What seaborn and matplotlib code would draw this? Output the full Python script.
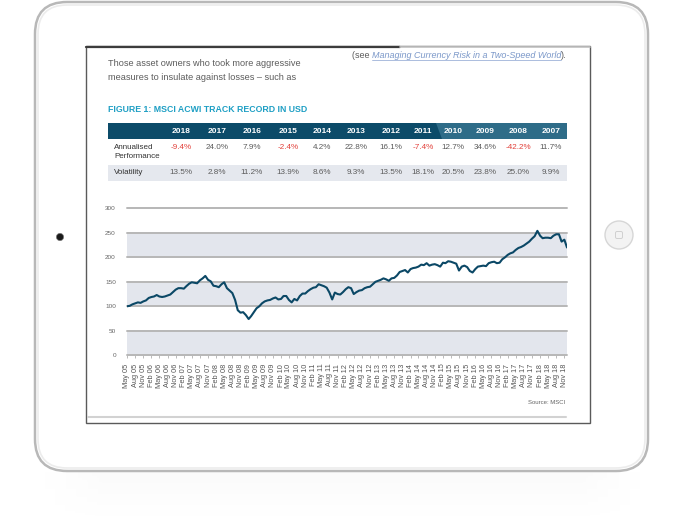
import numpy as np
import pandas as pd
import seaborn as sns
import matplotlib.pyplot as plt
from matplotlib.patches import FancyBboxPatch, Rectangle, Polygon, Circle

# --- data ---
years = ["2018", "2017", "2016", "2015", "2014", "2013", "2012", "2011", "2010", "2009", "2008", "2007"]
performance = [-9.4, 24.0, 7.9, -2.4, 4.2, 22.8, 16.1, -7.4, 12.7, 34.6, -42.2, 11.7]
volatility = [13.5, 2.8, 11.2, 13.9, 8.6, 9.3, 13.5, 18.1, 20.5, 23.8, 25.0, 9.9]

# monthly index level, May 2005 = 100, to Dec 2018
acwi = [100, 101, 104, 106, 108, 107, 110, 112, 117, 119, 120, 123,
        120, 119, 120, 122, 124, 129, 134, 137, 137, 136, 141, 146,
        149, 148, 147, 153, 157, 162, 154, 151, 142, 141, 139, 145,
        149, 137, 132, 127, 113, 92, 87, 88, 82, 74, 80, 88,
        96, 100, 106, 110, 112, 113, 116, 118, 114, 115, 121, 121,
        113, 108, 115, 112, 121, 126, 126, 131, 135, 138, 139, 145,
        143, 141, 138, 128, 114, 128, 125, 124, 129, 135, 139, 137,
        125, 129, 132, 133, 137, 139, 140, 145, 150, 152, 154, 157,
        155, 152, 157, 158, 163, 170, 172, 174, 169, 176, 178, 179,
        181, 185, 184, 188, 183, 185, 186, 184, 181, 189, 188, 192,
        191, 189, 187, 173, 181, 183, 180, 172, 169, 176, 181, 182,
        183, 182, 188, 190, 191, 188, 189, 196, 200, 205, 208, 210,
        215, 219, 221, 224, 228, 232, 238, 243, 254, 244, 239, 240,
        240, 239, 244, 247, 247, 232, 236, 220]
dates = pd.date_range("2005-05-01", periods=len(acwi), freq="MS")
tick_dates = dates[::3]
tick_labels = [d.strftime("%b %y") for d in tick_dates]

df = pd.DataFrame({"date": dates, "index": acwi})

sns.set_theme(style="white")
plt.rcParams["font.family"] = ["Liberation Sans", "DejaVu Sans"]

W, H = 685, 522
fig = plt.figure(figsize=(W / 100, H / 100), dpi=100)
fig.patch.set_facecolor("white")

# background axes in pixel units
bg = fig.add_axes([0, 0, 1, 1])
bg.set_xlim(0, W)
bg.set_ylim(H, 0)
bg.axis("off")

# faint reflection below the tablet
grad = np.linspace(0.035, 0, 50).reshape(-1, 1) * np.ones((1, 60))
edge = np.minimum(1, np.minimum(np.arange(60), np.arange(60)[::-1]) / 6)
grad = grad * edge[None, :]
bg.imshow(grad, extent=(40, 645, 522, 472), cmap="Greys", vmin=0, vmax=1,
          aspect="auto", interpolation="bilinear", zorder=0)

# tablet body
body = FancyBboxPatch((35, 2), 613, 469, boxstyle="round,pad=0,rounding_size=32",
                      fc="white", ec="#b8b8b8", lw=1.8, zorder=1)
bg.add_patch(body)
inner = FancyBboxPatch((38, 5), 607, 463, boxstyle="round,pad=0,rounding_size=29",
                       fc="none", ec="#ececec", lw=1.2, zorder=1)
bg.add_patch(inner)

# screen
bg.add_patch(Rectangle((86, 46), 504, 377, fc="white", ec="#5a5a5a", lw=1.0, zorder=2))
bg.plot([86, 400], [46.5, 46.5], color="#3c3c3c", lw=1.6, zorder=3)
bg.plot([400, 590], [46.5, 46.5], color="#c8c8c8", lw=1.2, zorder=3)
bg.plot([88, 566], [416.5, 416.5], color="#d2d2d2", lw=1.5, zorder=3)

# camera and home button
bg.add_patch(Circle((60, 237), 3.6, fc="#1a1a1a", ec="#777", lw=0.5, zorder=3))
bg.add_patch(Circle((619, 235), 14, fc="#f3f3f3", ec="#d6d6d6", lw=1.0, zorder=3))
bg.add_patch(FancyBboxPatch((615.5, 231.5), 7, 7, boxstyle="round,pad=0,rounding_size=1.5",
                            fc="none", ec="#d0d0d0", lw=0.7, zorder=4))

txt = "#5c5c5c"
bg.text(108, 64, "Those asset owners who took more aggressive", fontsize=6.6,
        color=txt, va="center", zorder=5)
bg.text(108, 77, "measures to insulate against losses \u2013 such as", fontsize=6.6,
        color=txt, va="center", zorder=5)

t1 = bg.text(352, 55.5, "(see ", fontsize=6.5, color=txt, va="center", zorder=5)
fig.canvas.draw()
inv = bg.transData.inverted()
e = t1.get_window_extent()
x1 = inv.transform((e.x1, 0))[0]
t2 = bg.text(x1, 55.5, "Managing Currency Risk in a Two-Speed World", fontsize=6.5,
             color="#7b98c9", style="italic", va="center", zorder=5)
fig.canvas.draw()
e2 = t2.get_window_extent()
x2 = inv.transform((e2.x1, 0))[0]
bg.plot([x1, x2], [59.8, 59.8], color="#9db2d8", lw=0.6, zorder=5)
bg.text(x2, 55.5, ").", fontsize=6.5, color=txt, va="center", zorder=5)

bg.text(108, 110, "FIGURE 1: MSCI ACWI TRACK RECORD IN USD", fontsize=6.3,
        color="#1e9fc4", fontweight="bold", va="center", zorder=5)

# table
col_x = [181, 217, 252, 288, 322, 356, 391, 423, 453, 485, 518, 551]
bg.add_patch(Rectangle((108, 123), 459, 16, fc="#0c4b69", ec="none", zorder=4))
bg.add_patch(Polygon([(436, 123), (567, 123), (567, 139), (442, 139)],
                     fc="#2e6c88", ec="none", zorder=4))
bg.add_patch(Rectangle((108, 165), 459, 15.5, fc="#e5e8ee", ec="none", zorder=4))
for x, y, p, v in zip(col_x, years, performance, volatility):
    bg.text(x, 131.2, y, fontsize=6.0, color="white", fontweight="bold",
            ha="center", va="center", zorder=5)
    bg.text(x, 147.8, f"{p:.1f}%", fontsize=5.9, ha="center", va="center",
            color="#e2413b" if p < 0 else txt, zorder=5)
    bg.text(x, 172.8, f"{v:.1f}%", fontsize=5.9, ha="center", va="center",
            color=txt, zorder=5)
bg.text(114, 147.8, "Annualised", fontsize=5.8, color="#333", va="center", zorder=5)
bg.text(114, 156.8, "Performance", fontsize=5.8, color="#333", va="center", zorder=5)
bg.text(114, 172.8, "Volatility", fontsize=5.8, color="#333", va="center", zorder=5)

bg.text(565, 402, "Source: MSCI", fontsize=4.3, color="#666", ha="right",
        va="center", zorder=5)

# chart
ax = fig.add_axes([127 / W, 1 - 355.3 / H, 440 / W, 147 / H])
ax.set_facecolor("none")
for lo in (0, 100, 200):
    ax.axhspan(lo, lo + 50, color="#e3e6ed", lw=0, zorder=0)
for g in range(0, 301, 50):
    ax.axhline(g, color="#b7b7b7", lw=1.4, zorder=1, clip_on=False)
sns.lineplot(data=df, x="date", y="index", ax=ax, color="#0b4866", lw=1.5, zorder=3)
ax.set_xlim(dates[0], dates[-1])
ax.set_ylim(0, 300)
ax.set_yticks(range(0, 301, 50))
ax.set_yticklabels([str(v) for v in range(0, 301, 50)], fontsize=4.6, color="#666")
ax.set_xticks(tick_dates)
ax.set_xticklabels(tick_labels, rotation=90, fontsize=5.3, color="#555")
ax.tick_params(axis="x", length=2, width=0.6, color="#b0b0b0", pad=4, bottom=True)
ax.tick_params(axis="y", length=0, pad=8)
ax.set_xlabel("")
ax.set_ylabel("")
for s in ax.spines.values():
    s.set_visible(False)

fig.savefig("out.png", dpi=100)
